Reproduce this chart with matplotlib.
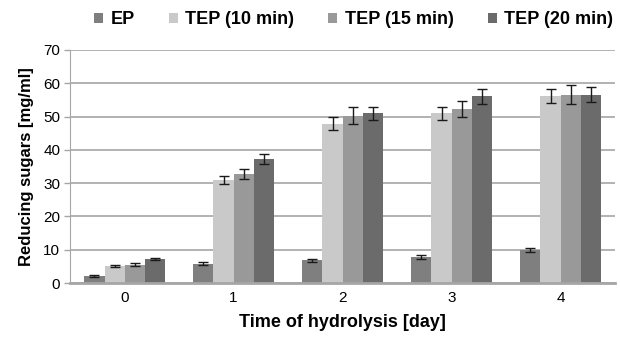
import matplotlib.pyplot as plt
import numpy as np

plt.rcParams['font.family'] = ['Liberation Sans', 'DejaVu Sans']

days = ['0', '1', '2', '3', '4']
series = ['EP', 'TEP (10 min)', 'TEP (15 min)', 'TEP (20 min)']
ep = [2.0, 5.8, 6.8, 7.8, 9.9]
tep10 = [5.0, 30.8, 47.9, 51.0, 56.2]
tep15 = [5.5, 32.7, 50.3, 52.3, 56.6]
tep20 = [7.2, 37.2, 51.0, 56.1, 56.6]
ep_err = [0.3, 0.4, 0.5, 0.5, 0.5]
tep10_err = [0.3, 1.2, 2.0, 2.0, 2.2]
tep15_err = [0.4, 1.5, 2.5, 2.5, 2.8]
tep20_err = [0.4, 1.4, 2.0, 2.2, 2.3]
colors = ['#7f7f7f', '#c8c9c8', '#999999', '#6b6b6b']

fig = plt.figure(figsize=(6.2, 3.37), dpi=100)
ax = fig.add_axes([0.113, 0.160, 0.879, 0.692])

x = np.arange(len(days))
w = 0.184
vals = [ep, tep10, tep15, tep20]
errs = [ep_err, tep10_err, tep15_err, tep20_err]
for i, (v, e) in enumerate(zip(vals, errs)):
    ax.bar(x + (i - 1.5) * w, v, w, color=colors[i], label=series[i], zorder=2,
           yerr=e, capsize=3.5, error_kw=dict(ecolor='#1a1a1a', elinewidth=1.0, capthick=1.0))

ax.set_xlim(-0.5, 4.5)
ax.set_ylim(0, 70)
ax.set_yticks(range(0, 71, 10))
ax.set_xticks(x)
ax.set_xticklabels(days)
ax.yaxis.grid(True, color='#a6a6a6', linewidth=1.2, zorder=0)
ax.set_axisbelow(True)
for s in ['top', 'right']:
    ax.spines[s].set_visible(False)
ax.spines['left'].set_color('#a6a6a6')
ax.spines['bottom'].set_color('#a6a6a6')
ax.spines['bottom'].set_linewidth(2)
ax.tick_params(axis='both', length=0, labelsize=11, pad=6)
ax.tick_params(axis='y', length=4, color='#a6a6a6', width=1, pad=3)

ax.set_ylabel('Reducing sugars [mg/ml]', fontsize=12, fontweight='bold', labelpad=7)
ax.set_xlabel('Time of hydrolysis [day]', fontsize=13, fontweight='bold', labelpad=6)

fig.legend(loc='center left', bbox_to_anchor=(94 / 620, 1 - 20 / 337), ncol=4, frameon=False,
           prop={'weight': 'bold', 'size': 13}, handlelength=0.5, handleheight=0.5,
           handletextpad=0.4, columnspacing=1.9, borderpad=0, borderaxespad=0)

fig.savefig('out.png', dpi=100)
